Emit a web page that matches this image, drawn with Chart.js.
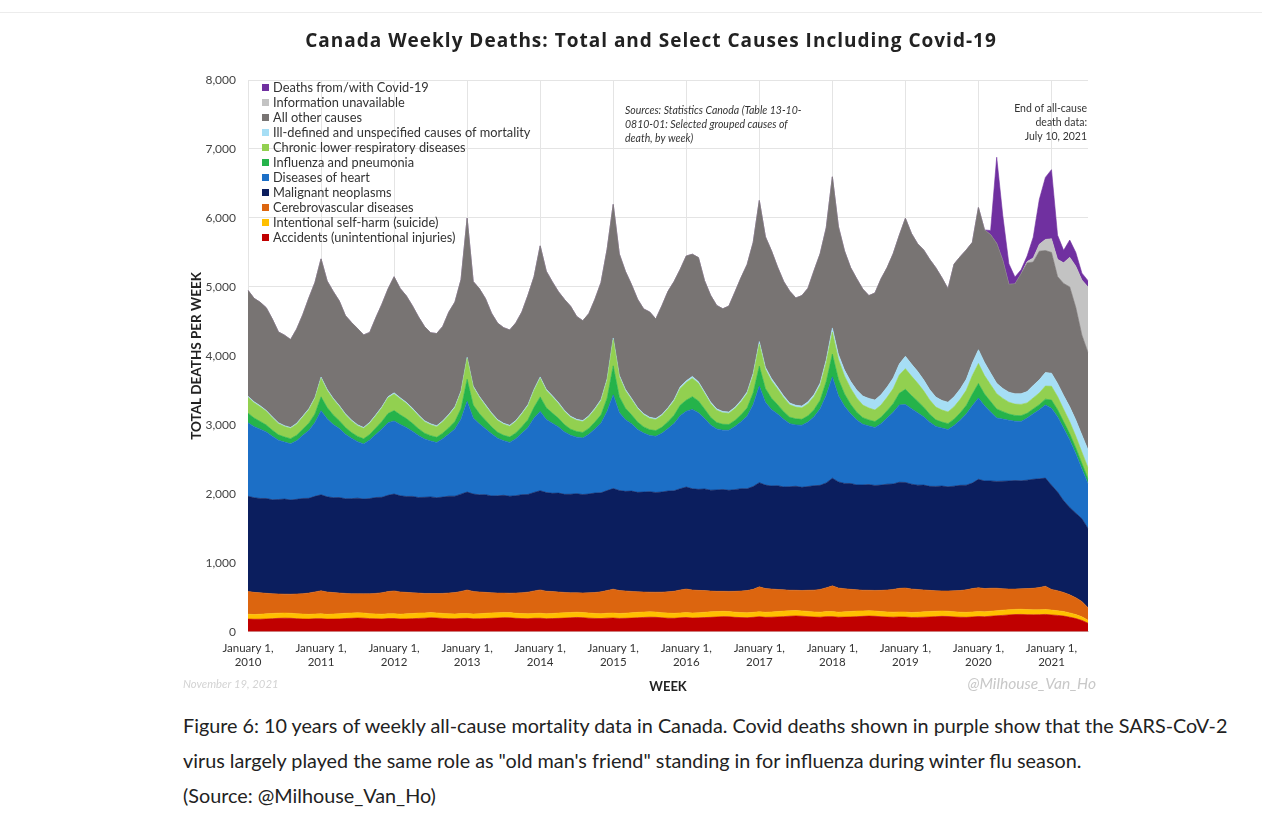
<!DOCTYPE html>
<html>
<head>
<meta charset="utf-8">
<title>Canada Weekly Deaths</title>
<script src="https://cdn.jsdelivr.net/npm/chart.js@4.4.1/dist/chart.umd.min.js"></script>
<style>
  body { margin: 0; background: #fff; width: 1262px; height: 814px; overflow: hidden; position: relative; font-family: Lato, sans-serif; }
  #topline { position: absolute; left: 0; top: 12px; width: 1262px; height: 1px; background: #ececec; }
  #wrap { position: absolute; left: 160px; top: 15px; width: 982px; height: 684px; }
  #caption { position: absolute; left: 183px; top: 708px; width: 1075px; font-size: 19.8px; line-height: 34.8px; color: #222; white-space: nowrap; }
</style>
</head>
<body>
<div id="topline"></div>
<div id="wrap"><canvas id="deaths_canvas"></canvas></div>
<div id="caption">Figure 6: 10 years of weekly all-cause mortality data in Canada. Covid deaths shown in purple show that the SARS-CoV-2<br>virus largely played the same role as "old man's friend" standing in for influenza during winter flu season.<br>(Source: @Milhouse_Van_Ho)</div>
<script>
// monthly readings, Jan 2010 .. Jul 2021 (one row per year)
var years = [2010, 2011, 2012, 2013, 2014, 2015, 2016, 2017, 2018, 2019, 2020, 2021];
var monthNames = ['Jan','Feb','Mar','Apr','May','Jun','Jul','Aug','Sep','Oct','Nov','Dec'];
var lastMonth2021 = 6; // July 10, 2021

var accidents = [
  185,182,183,186,190,195,198,196,190,186,184,190,
  190,184,185,187,192,196,200,198,191,188,186,192,
  192,186,187,190,194,198,203,200,194,190,188,194,
  195,188,189,192,196,200,205,203,196,192,190,196,
  197,190,192,195,199,203,208,205,198,194,192,198,
  200,194,196,199,203,208,212,210,203,198,196,203,
  207,200,202,206,210,215,220,218,210,206,204,210,
  218,210,212,216,220,226,230,226,220,214,212,220,
  220,212,213,216,220,224,228,225,218,214,212,216,
  214,208,209,212,216,220,224,222,216,212,210,216,
  222,218,226,232,238,245,250,252,248,246,248,252,
  245,238,228,212,192,165,125];

var suicide = [
  70,68,72,74,76,75,74,73,72,71,69,68,
  70,69,72,75,77,76,75,74,72,71,70,69,
  71,70,73,75,77,76,75,74,73,72,70,70,
  71,70,73,76,78,77,76,75,73,72,71,70,
  72,71,74,76,78,77,76,75,74,72,71,71,
  72,71,74,77,79,78,77,76,74,73,72,71,
  73,72,75,77,79,78,77,76,75,73,72,72,
  74,73,76,78,80,79,78,77,76,74,73,73,
  74,73,76,78,80,79,78,77,75,74,73,72,
  73,72,75,77,79,78,77,76,75,73,72,72,
  72,71,72,74,76,76,75,75,74,73,72,72,
  70,68,66,62,58,52,44];

var cerebrovascular = [
  330,322,310,298,286,278,274,276,286,296,308,320,
  334,324,312,300,288,280,276,278,288,298,310,322,
  330,322,312,300,290,282,278,280,290,300,310,322,
  340,328,316,304,292,284,280,282,292,302,314,326,
  338,328,318,306,294,286,282,284,294,304,316,330,
  346,334,322,310,298,290,286,288,298,308,320,332,
  340,334,324,314,302,294,290,292,302,312,322,334,
  360,344,332,320,308,298,294,296,306,316,330,345,
  372,350,336,322,310,300,296,298,308,318,330,342,
  348,340,330,318,306,296,292,294,304,314,326,338,
  346,338,334,326,310,298,294,296,304,312,322,336,
  300,290,276,262,245,222,180];

var malignant = [
  1380,1372,1368,1375,1362,1370,1378,1366,1372,1380,1374,1386,
  1392,1380,1376,1384,1372,1378,1386,1374,1380,1390,1384,1396,
  1404,1394,1390,1398,1386,1394,1400,1390,1396,1404,1398,1410,
  1420,1412,1408,1416,1404,1410,1418,1406,1412,1422,1416,1428,
  1438,1430,1424,1434,1422,1428,1436,1426,1432,1442,1436,1448,
  1458,1450,1444,1454,1442,1450,1456,1446,1452,1462,1456,1468,
  1478,1468,1464,1474,1462,1470,1476,1466,1474,1484,1476,1490,
  1510,1500,1494,1504,1492,1500,1508,1496,1504,1514,1508,1520,
  1560,1538,1526,1534,1520,1526,1532,1522,1526,1534,1528,1538,
  1530,1520,1512,1520,1508,1514,1520,1510,1516,1524,1518,1530,
  1570,1560,1556,1548,1560,1568,1574,1566,1572,1580,1576,1568,
  1510,1430,1330,1265,1225,1200,1150];

var heart = [
  1065,1030,1005,965,920,860,826,815,850,915,985,1070,
  1220,1130,1060,1000,935,875,820,800,850,915,990,1050,
  1060,1035,1000,945,900,845,810,800,845,900,975,1090,
  1315,1100,1030,955,900,835,790,780,825,890,970,1080,
  1150,1060,1015,960,905,855,820,820,865,930,1010,1150,
  1360,1130,1040,975,910,855,815,815,850,905,975,1060,
  1100,1150,1110,1020,945,885,860,870,915,970,1050,1190,
  1400,1200,1110,1040,980,915,890,900,935,1000,1110,1270,
  1470,1250,1120,1010,940,880,850,840,890,960,1040,1120,
  1130,1095,1050,990,930,870,840,830,880,945,1030,1120,
  1180,1090,1000,920,900,880,860,860,900,950,1000,1060,
  1115,1090,1050,980,860,720,650];

var influenza = [
  140,125,112,100,88,78,74,74,80,90,105,125,
  200,165,138,115,98,84,76,74,80,92,110,135,
  150,140,130,115,98,84,78,76,82,92,108,150,
  320,190,148,125,102,86,80,78,84,96,115,155,
  210,170,148,125,104,88,82,80,86,98,120,190,
  420,230,165,132,108,90,84,82,88,100,120,150,
  160,185,172,140,112,92,86,84,88,100,120,170,
  290,200,162,135,112,93,88,86,90,102,125,200,
  330,240,178,140,114,95,88,86,92,105,125,170,
  220,190,168,140,114,95,88,86,92,105,125,170,
  210,170,150,130,108,90,84,84,70,70,75,85,
  120,105,95,90,85,80,70];

var respiratory = [
  230,222,212,198,180,162,152,150,160,175,195,222,
  270,248,228,205,186,168,156,152,162,178,198,228,
  240,232,220,205,186,168,158,154,164,180,200,240,
  300,258,235,210,190,170,160,156,166,182,202,245,
  270,250,235,212,192,172,162,158,168,184,206,260,
  380,290,255,222,196,175,164,160,170,186,208,245,
  255,268,255,226,200,178,167,163,172,188,210,255,
  320,278,255,228,203,180,170,166,175,192,215,280,
  320,288,260,232,206,183,172,168,178,195,218,265,
  300,282,262,236,208,185,174,170,180,197,220,270,
  290,268,245,222,192,172,164,164,150,160,170,190,
  200,190,180,175,170,165,160];

var illDefined = [
  16,15,15,14,14,13,13,13,14,14,15,16,
  17,16,15,15,14,14,13,13,14,15,15,16,
  17,16,16,15,15,14,14,14,14,15,16,17,
  19,17,16,16,15,15,14,14,15,16,17,18,
  20,18,17,17,16,16,15,15,16,17,18,20,
  24,21,19,18,17,17,16,16,17,18,20,22,
  26,26,24,22,21,20,19,19,20,22,24,28,
  36,32,30,28,27,26,26,26,28,30,34,40,
  60,70,85,100,115,130,140,145,150,150,155,160,
  180,175,170,160,150,145,140,140,145,150,160,180,
  200,190,170,150,145,145,150,155,165,180,190,195,
  190,190,200,215,235,250,260];

var otherCauses = [
  1534,1498,1501,1488,1418,1317,1311,1273,1366,1471,1605,1667,
  1713,1571,1549,1515,1422,1414,1395,1341,1304,1405,1487,1561,
  1683,1582,1544,1485,1421,1364,1320,1336,1370,1483,1516,1613,
  2016,1515,1561,1539,1443,1399,1386,1382,1415,1466,1586,1632,
  1900,1712,1650,1606,1608,1594,1491,1447,1480,1581,1696,1880,
  1936,1759,1711,1648,1569,1518,1526,1442,1575,1686,1712,1703,
  1809,1771,1799,1612,1547,1500,1488,1534,1670,1780,1846,1897,
  2044,1890,1853,1739,1658,1621,1556,1602,1647,1796,1876,1910,
  2190,1852,1727,1648,1615,1552,1490,1551,1680,1730,1802,1865,
  2000,1893,1850,1884,1888,1875,1778,1644,1923,1918,1875,1750,
  2060,1922,2005,2028,1855,1563,1592,1737,1865,1790,1865,1770,
  1750,1549,1625,1739,1630,1446,1411];

var infoUnavailable = [
  0,0,0,0,0,0,0,0,0,0,0,0,
  0,0,0,0,0,0,0,0,0,0,0,0,
  0,0,0,0,0,0,0,0,0,0,0,0,
  0,0,0,0,0,0,0,0,0,0,0,0,
  0,0,0,0,0,0,0,0,0,0,0,0,
  0,0,0,0,0,0,0,0,0,0,0,0,
  0,0,0,0,0,0,0,0,0,0,0,0,
  0,0,0,0,0,0,0,0,0,0,0,0,
  0,0,0,0,0,0,0,0,0,0,0,0,
  0,0,0,0,0,0,0,0,0,0,0,0,
  0,0,0,0,0,0,0,0,20,60,100,160,
  200,250,300,430,600,800,950];

var covid = [
  0,0,0,0,0,0,0,0,0,0,0,0,
  0,0,0,0,0,0,0,0,0,0,0,0,
  0,0,0,0,0,0,0,0,0,0,0,0,
  0,0,0,0,0,0,0,0,0,0,0,0,
  0,0,0,0,0,0,0,0,0,0,0,0,
  0,0,0,0,0,0,0,0,0,0,0,0,
  0,0,0,0,0,0,0,0,0,0,0,0,
  0,0,0,0,0,0,0,0,0,0,0,0,
  0,0,0,0,0,0,0,0,0,0,0,0,
  0,0,0,0,0,0,0,0,0,0,0,0,
  0,0,60,1250,650,300,100,60,80,300,650,900,
  1000,350,180,250,200,100,90];

var labels = [];
years.forEach(function (y) {
    monthNames.forEach(function (m, i) {
        if (y === 2021 && i > lastMonth2021) return;
        labels.push(m + ' ' + y);
    });
});

// bottom of the stack first
var series = [
    { label: 'Accidents (unintentional injuries)', data: accidents, color: '#c00000' },
    { label: 'Intentional self-harm (suicide)', data: suicide, color: '#ffc000' },
    { label: 'Cerebrovascular diseases', data: cerebrovascular, color: '#dc650f' },
    { label: 'Malignant neoplasms', data: malignant, color: '#0b1e5e' },
    { label: 'Diseases of heart', data: heart, color: '#1c6fc6' },
    { label: 'Influenza and pneumonia', data: influenza, color: '#25b34a' },
    { label: 'Chronic lower respiratory diseases', data: respiratory, color: '#92d050' },
    { label: 'Ill-defined and unspecified causes of mortality', data: illDefined, color: '#a6def5' },
    { label: 'All other causes', data: otherCauses, color: '#787473' },
    { label: 'Information unavailable', data: infoUnavailable, color: '#c3c3c3' },
    { label: 'Deaths from/with Covid-19', data: covid, color: '#7030a0' }
];

var datasets = series.map(function (s, i) {
    return {
        label: s.label,
        data: s.data,
        backgroundColor: s.color,
        borderColor: s.color,
        borderWidth: 0.6,
        pointRadius: 0,
        tension: 0,
        fill: i === 0 ? 'origin' : '-1'
    };
});

var chartTitle = 'Canada Weekly Deaths: Total and Select Causes Including Covid-19';

// title, legend and notes drawn on the canvas, like the original image
var notesPlugin = {
    id: 'notes',
    afterDraw: function (chart) {
        var ctx = chart.ctx;
        var ca = chart.chartArea;
        ctx.save();
        ctx.textBaseline = 'middle';

        ctx.font = 'bold 19px "Open Sans"';
        ctx.fillStyle = '#222';
        ctx.textAlign = 'center';
        if ('letterSpacing' in ctx) ctx.letterSpacing = '1px';
        ctx.fillText(chartTitle, 491, 27);
        if ('letterSpacing' in ctx) ctx.letterSpacing = '0px';

        ctx.font = '12.8px Lato';
        ctx.textAlign = 'left';
        var items = chart.data.datasets.slice().reverse();
        items.forEach(function (ds, i) {
            var y = ca.top + 7.5 + i * 15;
            ctx.fillStyle = ds.backgroundColor;
            ctx.fillRect(ca.left + 14, y - 3.5, 7, 7);
            ctx.fillStyle = '#333';
            ctx.fillText(ds.label, ca.left + 25, y);
        });

        ctx.font = 'italic 10.5px Lato';
        ctx.fillStyle = '#333';
        ['Sources: Statistics Canoda (Table 13-10-', '0810-01: Selected grouped causes of', 'death, by week)'].forEach(function (t, i) {
            ctx.fillText(t, ca.left + 377, ca.top + 31 + i * 14);
        });

        ctx.font = '10.5px Lato';
        ctx.textAlign = 'right';
        ['End of all-cause', 'death data:', 'July 10, 2021'].forEach(function (t, i) {
            ctx.fillText(t, ca.right - 1, ca.top + 29 + i * 14);
        });

        ctx.font = 'italic 15.6px Lato';
        ctx.fillStyle = '#c8c8c8';
        ctx.fillText('@Milhouse_Van_Ho', ca.right + 8, 669);

        ctx.textAlign = 'left';
        ctx.font = 'italic 11.3px Lato';
        ctx.fillStyle = '#d3d3d3';
        ctx.fillText('November 19, 2021', 23, 669);
        ctx.restore();
    }
};

Chart.defaults.font.family = 'Lato';
Chart.defaults.color = '#333';

var deaths_canvas = document.getElementById('deaths_canvas');
var ctx = deaths_canvas.getContext('2d');
var deathsChart = new Chart(ctx, {
    type: 'line',
    data: { labels: labels, datasets: datasets },
    plugins: [notesPlugin],
    options: {
        responsive: true,
        maintainAspectRatio: false,
        animation: false,
        layout: { padding: { left: 0, right: 54, top: 65, bottom: 0 } },
        plugins: {
            legend: { display: false },
            tooltip: { enabled: false },
            title: { display: false }
        },
        scales: {
            x: {
                type: 'category',
                offset: false,
                grid: { color: '#e4e4e4', drawTicks: false },
                border: { color: '#d8d8d8' },
                ticks: {
                    autoSkip: false,
                    maxRotation: 0,
                    padding: 10,
                    color: '#333',
                    font: { size: 11.5 },
                    callback: function (value) {
                        var lab = this.getLabelForValue(value);
                        if (lab.indexOf('Jan ') === 0) return ['January 1,', lab.slice(4)];
                        return null;
                    }
                },
                title: {
                    display: true,
                    text: 'WEEK',
                    color: '#222',
                    font: { size: 13, weight: 'bold' },
                    padding: { top: 0, bottom: 4 }
                }
            },
            y: {
                stacked: true,
                min: 0,
                max: 8000,
                grid: { color: '#e4e4e4', drawTicks: false },
                border: { display: false },
                ticks: { stepSize: 1000, padding: 12, color: '#444', font: { size: 12 } },
                title: {
                    display: true,
                    text: 'TOTAL DEATHS PER WEEK',
                    color: '#222',
                    font: { size: 13.5, weight: 'bold' },
                    padding: { top: 29, bottom: 0 }
                },
                afterFit: function (scale) { scale.width = 88; }
            }
        }
    }
});
</script>
</body>
</html>
